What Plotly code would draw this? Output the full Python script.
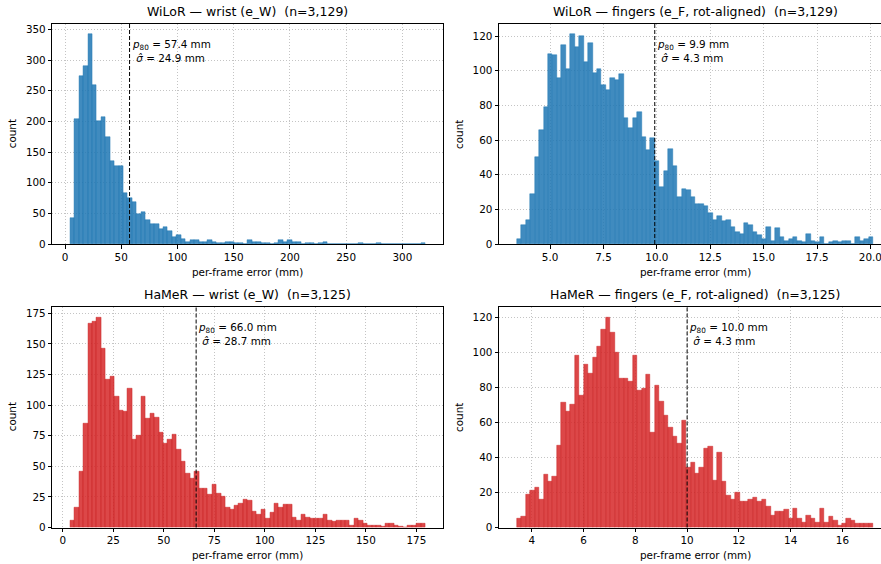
import plotly.graph_objects as go

# ---------------- data ----------------
wilor_wrist_counts = [42, 204, 274, 291, 342, 260, 201, 207, 174, 135,
                      128, 127, 83, 75, 68, 49, 53, 39, 32, 32,
                      25, 27, 21, 12, 14, 8, 4, 7, 7, 4,
                      4, 7, 3, 1, 2, 4, 4, 2, 2, 0,
                      7, 4, 4, 2, 2, 0, 2, 7, 4, 6,
                      3, 3, 0, 1, 1, 0, 1, 3, 0, 0,
                      0, 0, 0, 0, 0, 1, 0, 0, 0, 1,
                      0, 0, 0, 0, 0, 0, 0, 0, 0, 1]
wilor_wrist_range = [4.5, 320.3]

wilor_fingers_counts = [3, 11, 14, 29, 50, 66, 79, 110, 109, 96,
                        115, 101, 121, 114, 120, 105, 116, 99, 101, 92,
                        89, 96, 95, 98, 73, 67, 73, 76, 62, 54,
                        61, 48, 33, 42, 55, 45, 27, 32, 31, 27,
                        23, 23, 22, 18, 14, 16, 13, 14, 10, 7,
                        6, 12, 11, 7, 5, 3, 10, 2, 9, 4,
                        2, 3, 4, 2, 1, 6, 2, 1, 4, 0,
                        1, 2, 1, 2, 2, 0, 4, 2, 3, 4]
wilor_fingers_range = [3.44, 20.13]

hamer_wrist_counts = [6, 16, 46, 85, 167, 168, 172, 146, 121, 123,
                      107, 96, 95, 114, 72, 75, 107, 89, 93, 90,
                      78, 69, 72, 76, 64, 54, 44, 40, 46, 32,
                      32, 27, 35, 28, 25, 16, 15, 18, 20, 23,
                      22, 13, 11, 15, 7, 12, 20, 16, 19, 19,
                      8, 6, 11, 8, 7, 7, 7, 11, 6, 5,
                      6, 6, 6, 2, 7, 6, 3, 2, 2, 2,
                      1, 3, 3, 2, 1, 0, 2, 2, 3, 3]
hamer_wrist_range = [3.6, 179.4]

hamer_fingers_counts = [5, 6, 19, 21, 23, 16, 30, 26, 29, 47,
                        71, 66, 70, 98, 75, 93, 88, 97, 103, 113,
                        120, 111, 100, 85, 85, 83, 98, 78, 79, 87,
                        54, 81, 72, 64, 57, 52, 48, 61, 34, 37,
                        31, 34, 45, 46, 27, 43, 26, 18, 16, 20,
                        15, 15, 16, 17, 15, 16, 12, 7, 9, 9,
                        10, 5, 11, 5, 3, 7, 5, 3, 11, 3,
                        6, 4, 1, 2, 5, 4, 2, 2, 2, 2]
hamer_fingers_range = [3.42, 17.19]

titles = ["WiLoR — wrist (e_W)", "WiLoR — fingers (e_F, rot-aligned)",
          "HaMeR — wrist (e_W)", "HaMeR — fingers (e_F, rot-aligned)"]
n_frames = ["3,129", "3,129", "3,125", "3,125"]
p80_values = [57.4, 9.9, 66.0, 10.0]
sigma_values = [24.9, 4.3, 28.7, 4.3]

x_ticks = [[0, 50, 100, 150, 200, 250, 300],
           [5.0, 7.5, 10.0, 12.5, 15.0, 17.5, 20.0],
           [0, 25, 50, 75, 100, 125, 150, 175],
           [4, 6, 8, 10, 12, 14, 16]]
x_tick_format = ["d", ".1f", "d", "d"]
y_ticks = [[0, 50, 100, 150, 200, 250, 300, 350],
           [0, 20, 40, 60, 80, 100, 120],
           [0, 25, 50, 75, 100, 125, 150, 175],
           [0, 20, 40, 60, 80, 100, 120]]

# ---------------- layout constants ----------------
W, H = 881, 564
FONT = "DejaVu Sans"
BLUE_FILL, BLUE_EDGE = "rgba(31,119,180,0.85)", "rgba(31,119,180,0.9)"
RED_FILL, RED_EDGE = "rgba(214,39,40,0.85)", "rgba(200,30,32,0.9)"

counts_all = [wilor_wrist_counts, wilor_fingers_counts, hamer_wrist_counts, hamer_fingers_counts]
ranges_all = [wilor_wrist_range, wilor_fingers_range, hamer_wrist_range, hamer_fingers_range]
fills = [BLUE_FILL, BLUE_FILL, RED_FILL, RED_FILL]
edges = [BLUE_EDGE, BLUE_EDGE, RED_EDGE, RED_EDGE]

# pixel boxes of the axes: (left, right_full, right_visible), (top, bottom)
col_px = [(52.3, 443.0, 443.0), (499.0, 891.0, 881.0)]
row_px = [(24.0, 244.0), (306.5, 527.5)]

fig = go.Figure()
annotations = []
shapes = []

for i in range(4):
    r, c = divmod(i, 2)
    left, right_full, right_vis = col_px[c]
    top, bottom = row_px[r]
    counts = counts_all[i]
    lo, hi = ranges_all[i]
    nb = len(counts)
    bw = (hi - lo) / nb
    centers = [lo + bw * (k + 0.5) for k in range(nb)]
    span = hi - lo
    r0, r1 = lo - 0.05 * span, hi + 0.05 * span
    rvis = r0 + (r1 - r0) * (right_vis - left) / (right_full - left)
    ymax = 1.05 * max(counts)

    ax = "" if i == 0 else str(i + 1)
    fig.add_trace(go.Bar(
        x=centers, y=counts, width=bw,
        marker=dict(color=fills[i], line=dict(color=edges[i], width=0.5)),
        xaxis="x" + ax, yaxis="y" + ax, showlegend=False, hoverinfo="x+y"))

    common = dict(showline=True, linecolor="black", linewidth=1,
                  ticks="outside", ticklen=3.5, tickwidth=0.8, tickcolor="black",
                  showgrid=True, gridcolor="#c4c4c4", gridwidth=0.8, griddash="1px,2px",
                  zeroline=False, automargin=False, ticklabeloverflow="allow",
                  tickfont=dict(family=FONT, size=10.4, color="black"))
    fig.update_layout(**{
        "xaxis" + ax: dict(common, domain=[left / W, right_vis / W], range=[r0, rvis],
                           anchor="y" + ax, mirror=True, tickmode="array",
                           tickvals=x_ticks[i], tickformat=x_tick_format[i]),
        "yaxis" + ax: dict(common, domain=[1 - bottom / H, 1 - top / H], range=[0, ymax],
                           anchor="x" + ax, mirror=(c == 0), tickmode="array",
                           tickvals=y_ticks[i]),
    })

    # p80 dashed line
    shapes.append(dict(type="line", xref="x" + ax, yref="y" + ax + " domain",
                       x0=p80_values[i], x1=p80_values[i], y0=0, y1=1,
                       line=dict(color="black", width=1, dash="4px,2px")))
    # annotation text
    annotations.append(dict(
        xref="x" + ax, yref="y" + ax + " domain", x=p80_values[i], y=0.94,
        xanchor="left", yanchor="top", xshift=1.0, align="left", showarrow=False,
        borderpad=0,
        text=(f"<i>p</i><sub>80</sub> = {p80_values[i]:.1f} mm<br>"
              f"\u00a0<i>σ\u0302</i> = {sigma_values[i]:.1f} mm"),
        font=dict(family=FONT, size=10.4, color="black")))
    # panel title
    cx = (left + right_full) / 2
    annotations.append(dict(
        xref="paper", yref="paper", x=cx / W, y=1 - (top - 3) / H,
        xanchor="center", yanchor="bottom", showarrow=False,
        text=f"{titles[i]}\u00a0 (n={n_frames[i]})",
        font=dict(family=FONT, size=12.5, color="black")))
    # x label
    annotations.append(dict(
        xref="paper", yref="paper", x=cx / W, y=1 - (bottom + 27.5) / H,
        xanchor="center", yanchor="middle", showarrow=False,
        text="per-frame error (mm)", font=dict(family=FONT, size=10.4, color="black")))
    # y label
    annotations.append(dict(
        xref="paper", yref="paper", x=(left - 40) / W, y=1 - (top + bottom) / 2 / H,
        xanchor="center", yanchor="middle", showarrow=False, textangle=-90,
        text="count", font=dict(family=FONT, size=10.4, color="black")))

fig.update_layout(
    template="none",
    width=W, height=H, margin=dict(l=0, r=0, t=0, b=0, autoexpand=False),
    paper_bgcolor="white", plot_bgcolor="white",
    bargap=0, barmode="overlay", showlegend=False,
    annotations=annotations, shapes=shapes,
    font=dict(family=FONT, size=10.4, color="black"))

fig.write_html("out.html", config={"displayModeBar": False},
               post_script="document.body.style.margin='0';document.body.style.overflow='hidden';")
